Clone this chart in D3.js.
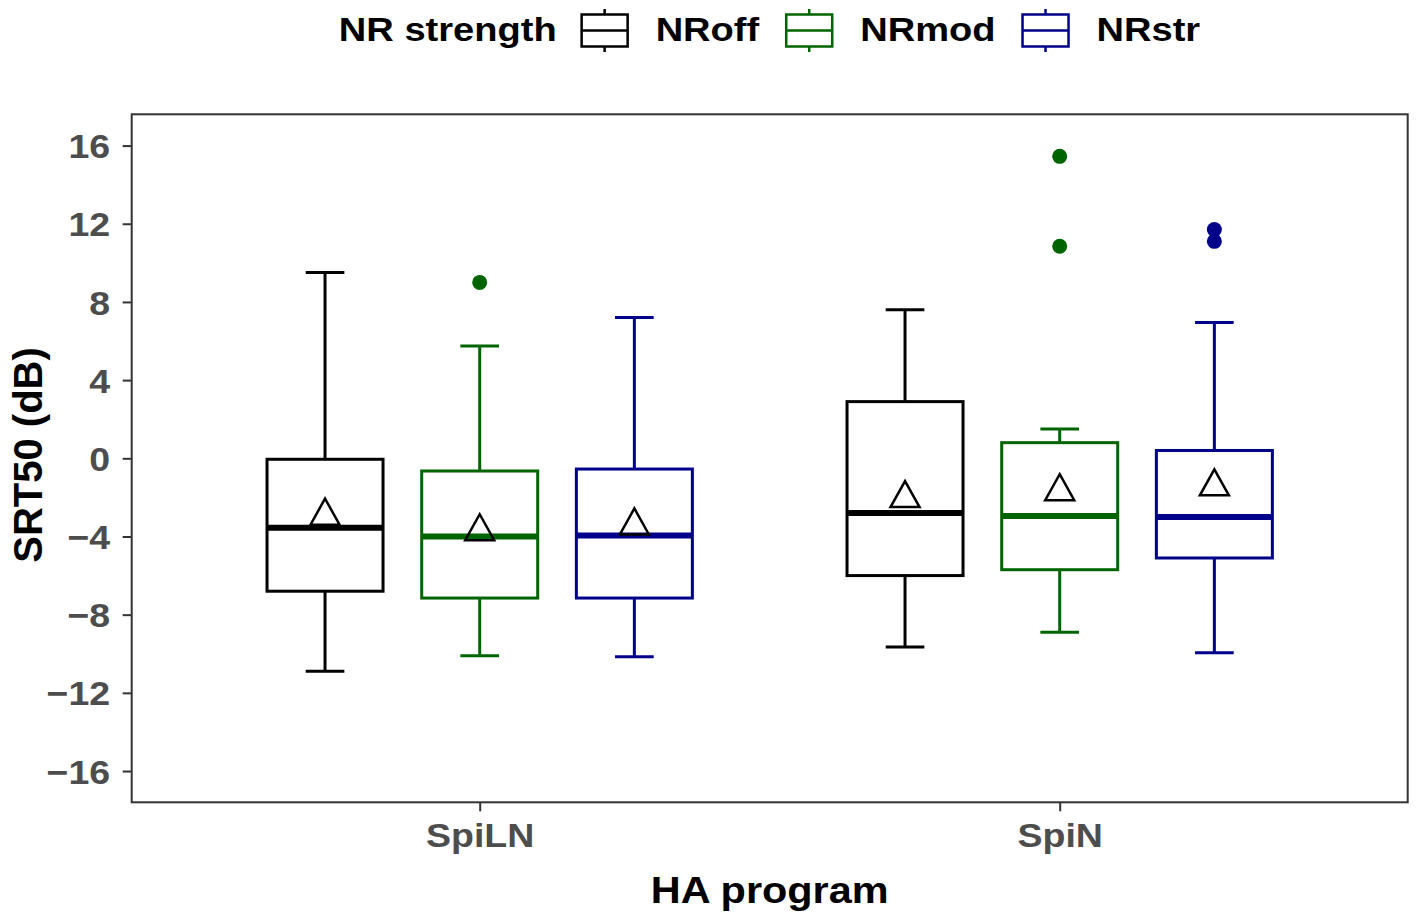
<!DOCTYPE html>
<html>
<head>
<meta charset="utf-8" />
<title>SRT50 by HA program</title>
<script src="https://cdn.jsdelivr.net/npm/d3@7"></script>
<style>
  body { margin: 0; background: #fff; }
  text { font-family: "Liberation Sans", Arial, sans-serif; font-weight: bold; }
</style>
</head>
<body>
<svg id="chart" width="1417" height="913"></svg>
<script>
// data
var programs = ["SpiLN", "SpiN"];
var strengths = ["NRoff", "NRmod", "NRstr"];
var colours = ["#000000", "#006400", "#00008b"];
// rows = programs, columns = strengths
var lowerWhisker = [[-10.9, -10.1, -10.15], [-9.65, -8.9, -9.95]];
var q1 = [[-6.8, -7.15, -7.15], [-6.0, -5.7, -5.1]];
var median = [[-3.55, -4.0, -3.95], [-2.8, -2.95, -3.0]];
var q3 = [[-0.05, -0.65, -0.55], [2.9, 0.8, 0.4]];
var upperWhisker = [[9.5, 5.75, 7.2], [7.6, 1.5, 6.95]];
var means = [[-2.95, -3.75, -3.45], [-2.05, -1.7, -1.45]];
var outliers = [[[], [9.0], []], [[], [15.45, 10.85], [11.7, 11.1]]];
var yTicks = [-16, -12, -8, -4, 0, 4, 8, 12, 16];

var SX = 1.12; // the type in the figure is a little wider than Arial

var svg = d3.select("#chart");
var panel = { left: 131.7, right: 1407.7, top: 114.3, bottom: 802.3 };

var x = d3.scalePoint().domain(programs)
    .range([panel.left, panel.right]).padding(0.6);
var unit = x.step();
var dodge = d3.scaleBand().domain(strengths)
    .range([-0.4 * unit, 0.4 * unit]);
var boxW = 0.2 * unit;
var capW = boxW / 3;
var y = d3.scaleLinear().domain([-17.6, 17.6])
    .range([panel.bottom, panel.top]);

var rows = [];
programs.forEach(function(p, i) {
    strengths.forEach(function(s, j) {
        rows.push({
            program: p, strength: s, colour: colours[j],
            lo: lowerWhisker[i][j], q1: q1[i][j], med: median[i][j],
            q3: q3[i][j], hi: upperWhisker[i][j], mean: means[i][j],
            out: outliers[i][j]
        });
    });
});
function cx(d) { return x(d.program) + dodge(d.strength) + dodge.bandwidth() / 2; }

// axes
var yAxis = svg.append("g")
    .attr("transform", "translate(" + panel.left + ",0)")
    .call(d3.axisLeft(y).tickValues(yTicks).tickSize(9).tickPadding(12));
yAxis.select(".domain").remove();
yAxis.selectAll("line").attr("stroke", "#333").attr("stroke-width", 2);
yAxis.selectAll("text")
    .attr("fill", "#4d4d4d").style("font-size", "33.5px")
    .attr("x", -21.5 / SX).attr("dy", "0.36em")
    .attr("transform", "scale(" + SX + ",1)");

var xAxis = svg.append("g")
    .attr("transform", "translate(0," + panel.bottom + ")")
    .call(d3.axisBottom(x).tickSize(9).tickPadding(12));
xAxis.select(".domain").remove();
xAxis.selectAll("line").attr("stroke", "#333").attr("stroke-width", 2);
xAxis.selectAll("text")
    .attr("fill", "#4d4d4d").style("font-size", "33.5px")
    .attr("transform", "scale(" + SX + ",1)");

svg.append("rect")
    .attr("x", panel.left).attr("y", panel.top)
    .attr("width", panel.right - panel.left).attr("height", panel.bottom - panel.top)
    .attr("fill", "none").attr("stroke", "#333").attr("stroke-width", 2);

// boxes
var g = svg.selectAll(".box").data(rows).enter().append("g").attr("class", "box");

g.append("line")
    .attr("x1", cx).attr("x2", cx)
    .attr("y1", function(d) { return y(d.q3); })
    .attr("y2", function(d) { return y(d.hi); })
    .attr("stroke", function(d) { return d.colour; }).attr("stroke-width", 3);
g.append("line")
    .attr("x1", cx).attr("x2", cx)
    .attr("y1", function(d) { return y(d.q1); })
    .attr("y2", function(d) { return y(d.lo); })
    .attr("stroke", function(d) { return d.colour; }).attr("stroke-width", 3);
["hi", "lo"].forEach(function(k) {
    g.append("line")
        .attr("x1", function(d) { return cx(d) - capW / 2; })
        .attr("x2", function(d) { return cx(d) + capW / 2; })
        .attr("y1", function(d) { return y(d[k]); })
        .attr("y2", function(d) { return y(d[k]); })
        .attr("stroke", function(d) { return d.colour; }).attr("stroke-width", 3);
});
g.append("rect")
    .attr("x", function(d) { return cx(d) - boxW / 2; })
    .attr("width", boxW)
    .attr("y", function(d) { return y(d.q3); })
    .attr("height", function(d) { return y(d.q1) - y(d.q3); })
    .attr("fill", "#fff")
    .attr("stroke", function(d) { return d.colour; }).attr("stroke-width", 3);
g.append("line")
    .attr("x1", function(d) { return cx(d) - boxW / 2; })
    .attr("x2", function(d) { return cx(d) + boxW / 2; })
    .attr("y1", function(d) { return y(d.med); })
    .attr("y2", function(d) { return y(d.med); })
    .attr("stroke", function(d) { return d.colour; }).attr("stroke-width", 6);

g.selectAll(".out")
    .data(function(d) { return d.out.map(function(v) { return { v: v, d: d }; }); })
    .enter().append("circle")
    .attr("class", "out")
    .attr("cx", function(o) { return cx(o.d); })
    .attr("cy", function(o) { return y(o.v); })
    .attr("r", 7.5)
    .attr("fill", function(o) { return o.d.colour; });

// mean triangles (hollow)
var triH = 26, triW = 29;
g.append("path")
    .attr("d", function(d) {
        var px = cx(d), py = y(d.mean);
        return "M" + px + "," + (py - triH * 2 / 3) +
            "L" + (px + triW / 2) + "," + (py + triH / 3) +
            "L" + (px - triW / 2) + "," + (py + triH / 3) + "Z";
    })
    .attr("fill", "none").attr("stroke", "#000").attr("stroke-width", 2.5);

// axis titles
svg.append("text")
    .attr("transform", "translate(769.7,903) scale(" + SX + ",1)")
    .attr("text-anchor", "middle").style("font-size", "37px")
    .text("HA program");
svg.append("text")
    .attr("transform", "translate(42,455) rotate(-90)")
    .attr("text-anchor", "middle").style("font-size", "40px")
    .text("SRT50 (dB)");

// legend
var legend = svg.append("g");
var lx = 0;
var title = legend.append("text")
    .attr("transform", "translate(0,41) scale(" + SX + ",1)")
    .style("font-size", "34px").text("NR strength");
lx += title.node().getComputedTextLength() * SX + 25;
strengths.forEach(function(s, j) {
    var k = legend.append("g").attr("transform", "translate(" + lx + ",0)");
    k.append("line").attr("x1", 23).attr("x2", 23).attr("y1", 9).attr("y2", 52)
        .attr("stroke", colours[j]).attr("stroke-width", 2.5);
    k.append("rect").attr("x", 0).attr("y", 14.5).attr("width", 46).attr("height", 32)
        .attr("fill", "#fff").attr("stroke", colours[j]).attr("stroke-width", 2.5);
    k.append("line").attr("x1", 0).attr("x2", 46).attr("y1", 30.5).attr("y2", 30.5)
        .attr("stroke", colours[j]).attr("stroke-width", 2.5);
    lx += 46 + 28;
    var t = legend.append("text")
        .attr("transform", "translate(" + lx + ",41) scale(" + SX + ",1)")
        .style("font-size", "34px").text(s);
    lx += t.node().getComputedTextLength() * SX + 27;
});
lx -= 27;
legend.attr("transform", "translate(" + (769.5 - lx / 2) + ",0)");
</script>
</body>
</html>
